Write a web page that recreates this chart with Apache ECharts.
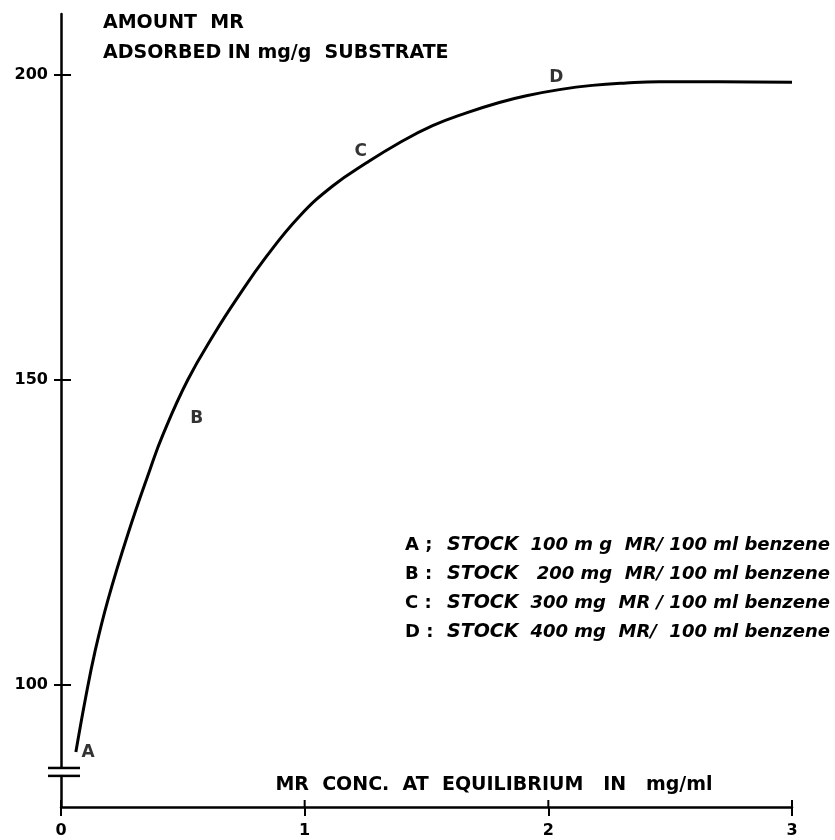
<!DOCTYPE html>
<html>
<head>
<meta charset="utf-8">
<script src="https://cdn.jsdelivr.net/npm/echarts@6/dist/echarts.min.js"></script>
<style>html,body{margin:0;padding:0;background:#fff}#c{width:835px;height:840px}</style>
</head>
<body>
<div id="c"></div>
<script>
// Curve
var concX = [0.061, 0.101, 0.139, 0.193, 0.275, 0.365, 0.418, 0.520, 0.631, 0.721, 0.844, 0.980, 1.115, 1.254, 1.389, 1.525, 1.664, 1.799, 1.910, 2.045, 2.180, 2.320, 2.455, 2.700, 3.000];
var amountY = [89.0, 97.9, 105.4, 114.0, 124.8, 135.3, 141.0, 150.0, 157.7, 163.3, 170.3, 176.9, 181.8, 185.6, 188.9, 191.7, 193.8, 195.5, 196.6, 197.6, 198.3, 198.7, 198.9, 198.9, 198.8];
// Point labels
var pointNames = ['A', 'B', 'C', 'D'];
var pointLabelX = [0.111, 0.557, 1.230, 2.033];
var pointLabelY = [89.0, 143.6, 187.5, 199.5];
// Legend texts
var legendKeys = ['A ;', 'B :', 'C :', 'D :'];
var legendStock = ['STOCK', 'STOCK', 'STOCK', 'STOCK'];
var legendRest = ['100 m g  MR/ 100 ml benzene', '200 mg  MR/ 100 ml benzene', '300 mg  MR / 100 ml benzene', '400 mg  MR/  100 ml benzene'];
// Axis ticks
var yTickValues = [100, 150, 200];
var xTickValues = [0, 1, 2, 3];
var yMin = 80, yMax = 210, xMin = 0, xMax = 3;
var breakValues = [86.4, 85.1];

var FONT = 'DejaVu Sans';
var chart = echarts.init(document.getElementById('c'));
var curve = concX.map(function (x, i) { return [x, amountY[i]]; });
var pts = pointNames.map(function (n, i) { return { name: n, value: [pointLabelX[i], pointLabelY[i]] }; });

var lineStyleAxis = { color: '#000', width: 2.5 };
var option = {
  backgroundColor: '#fff',
  animation: false,
  grid: { left: 61, right: 43, top: 14, bottom: 33 },
  xAxis: {
    type: 'value', min: xMin, max: xMax, interval: 1,
    axisLine: { show: true, lineStyle: lineStyleAxis },
    axisTick: { show: true, length: 9, lineStyle: { color: '#000', width: 2 } },
    axisLabel: { color: '#000', fontFamily: FONT, fontSize: 16, fontWeight: 'bold', margin: 16 },
    splitLine: { show: false }
  },
  yAxis: {
    type: 'value', min: yMin, max: yMax,
    axisLine: { show: true, lineStyle: lineStyleAxis },
    axisTick: { show: true, length: 7, customValues: yTickValues, lineStyle: { color: '#000', width: 2 } },
    axisLabel: { color: '#000', fontFamily: FONT, fontSize: 16, fontWeight: 'bold', margin: 13, customValues: yTickValues },
    splitLine: { show: false }
  },
  series: [{
    type: 'line', data: curve, smooth: 0.45, symbol: 'none', clip: false,
    lineStyle: { color: '#000', width: 3 }
  }, {
    type: 'scatter', data: pts, symbolSize: 1, itemStyle: { color: 'rgba(0,0,0,0)' },
    label: { show: true, position: 'inside', formatter: '{b}', color: '#000', textBorderWidth: 0, textBorderColor: 'transparent', fontFamily: FONT, fontSize: 17, fontWeight: 'bold' }
  }]
};
chart.setOption(option);

var axisX = chart.convertToPixel({ xAxisIndex: 0 }, xMin);
var axisY = chart.convertToPixel({ yAxisIndex: 0 }, yMin);
var graphics = [];
// inner halves of the crossing ticks
yTickValues.forEach(function (v) {
  var py = chart.convertToPixel({ yAxisIndex: 0 }, v);
  graphics.push({ type: 'line', shape: { x1: axisX, y1: py, x2: axisX + 10, y2: py }, style: { stroke: '#000', lineWidth: 2 } });
});
xTickValues.forEach(function (v) {
  var px = chart.convertToPixel({ xAxisIndex: 0 }, v);
  graphics.push({ type: 'line', shape: { x1: px, y1: axisY, x2: px, y2: axisY - 7 }, style: { stroke: '#000', lineWidth: 2 } });
});
// axis break
var b0 = chart.convertToPixel({ yAxisIndex: 0 }, breakValues[0]);
var b1 = chart.convertToPixel({ yAxisIndex: 0 }, breakValues[1]);
graphics.push({ type: 'rect', shape: { x: axisX - 3, y: b0 + 1, width: 6, height: b1 - b0 - 2 }, style: { fill: '#fff' }, z: 100 });
graphics.push({ type: 'line', shape: { x1: axisX - 13, y1: b0, x2: axisX + 19, y2: b0 }, style: { stroke: '#000', lineWidth: 2.5 }, z: 101 });
graphics.push({ type: 'line', shape: { x1: axisX - 13, y1: b1, x2: axisX + 19, y2: b1 }, style: { stroke: '#000', lineWidth: 2.5 }, z: 101 });
// titles
var tFont = 'bold 19px ' + FONT;
graphics.push({ type: 'text', style: { text: 'AMOUNT  MR', x: 103, y: 23, textVerticalAlign: 'middle', font: tFont, fill: '#000' } });
graphics.push({ type: 'text', style: { text: 'ADSORBED IN mg/g  SUBSTRATE', x: 103, y: 53, textVerticalAlign: 'middle', font: tFont, fill: '#000' } });
graphics.push({ type: 'text', style: { text: 'MR  CONC.  AT  EQUILIBRIUM   IN   mg/ml', x: 494, y: 785, textAlign: 'center', textVerticalAlign: 'middle', font: tFont, fill: '#000' } });
// legend
var legendY = [545, 574, 603, 632];
for (var i = 0; i < legendKeys.length; i++) {
  graphics.push({ type: 'text', style: { text: legendKeys[i], x: 405, y: legendY[i], textVerticalAlign: 'middle', font: 'bold 18px ' + FONT, fill: '#000' } });
  graphics.push({ type: 'text', style: { text: legendStock[i], x: 447, y: legendY[i], textVerticalAlign: 'middle', font: 'italic bold 19px ' + FONT, fill: '#000' } });
  graphics.push({ type: 'text', style: { text: legendRest[i], x: 830, y: legendY[i], textAlign: 'right', textVerticalAlign: 'middle', font: 'italic bold 18px ' + FONT, fill: '#000' } });
}
chart.setOption({ graphic: graphics });
</script>
</body>
</html>
